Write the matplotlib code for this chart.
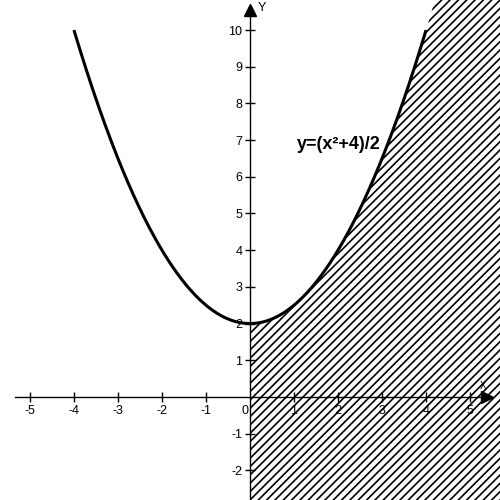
import numpy as np
import matplotlib.pyplot as plt

# curve y = (x^2 + 4) / 2, drawn for x in [-4, 4]
curve_x_range = (-4, 4)
x_ticks = [-5, -4, -3, -2, -1, 1, 2, 3, 4, 5]
y_ticks = [-2, -1, 1, 2, 3, 4, 5, 6, 7, 8, 9, 10]
label = "y=(x²+4)/2"


def f(x):
    return (x**2 + 4) / 2


def main():
    plt.rcParams['font.family'] = ['Liberation Sans', 'DejaVu Sans']
    plt.rcParams['axes.unicode_minus'] = False
    plt.rcParams['hatch.linewidth'] = 1.2

    fig = plt.figure(figsize=(5, 5), dpi=100)
    ax = fig.add_axes([0, 0, 1, 1])
    xmin, xmax = -5.68, 5.68
    ymin, ymax = -2.81, 10.82
    ax.set_xlim(xmin, xmax)
    ax.set_ylim(ymin, ymax)

    # hatched region: x >= 0, y <= f(x)
    xs = np.linspace(0, xmax + 0.1, 400)
    ax.fill_between(xs, ymin - 0.1, np.minimum(f(xs), ymax + 0.1),
                    facecolor='none', edgecolor='black', linewidth=0,
                    hatch='////')

    # the curve
    cx = np.linspace(curve_x_range[0], curve_x_range[1], 400)
    ax.plot(cx, f(cx), color='black', lw=2.2, solid_capstyle='butt')

    # axes through the origin
    for s in ['top', 'right']:
        ax.spines[s].set_visible(False)
    ax.spines['left'].set_position(('data', 0))
    ax.spines['bottom'].set_position(('data', 0))
    ax.spines['bottom'].set_bounds(-5.34, 5.3)
    ax.spines['left'].set_bounds(ymin, 10.4)
    ax.spines['left'].set_linewidth(1)
    ax.spines['bottom'].set_linewidth(1)
    ax.plot(5.38, 0, marker='>', color='black', ms=8, clip_on=False)
    ax.plot(0, 10.55, marker='^', color='black', ms=8, clip_on=False)

    ax.set_xticks(x_ticks)
    ax.set_yticks(y_ticks)
    ax.tick_params(direction='inout', length=7, width=1, labelsize=9, pad=2)
    ax.text(-0.12, -0.22, "0", fontsize=9, ha='center', va='top')
    ax.text(0.18, 10.6, "Y", fontsize=9, ha='left', va='center')
    ax.text(5.3, 0.3, "X", fontsize=7, ha='center', va='center')

    ax.text(1.07, 6.87, label, fontsize=13, fontweight='bold',
            ha='left', va='center')

    fig.savefig("out.png")


if __name__ == '__main__':
    main()
